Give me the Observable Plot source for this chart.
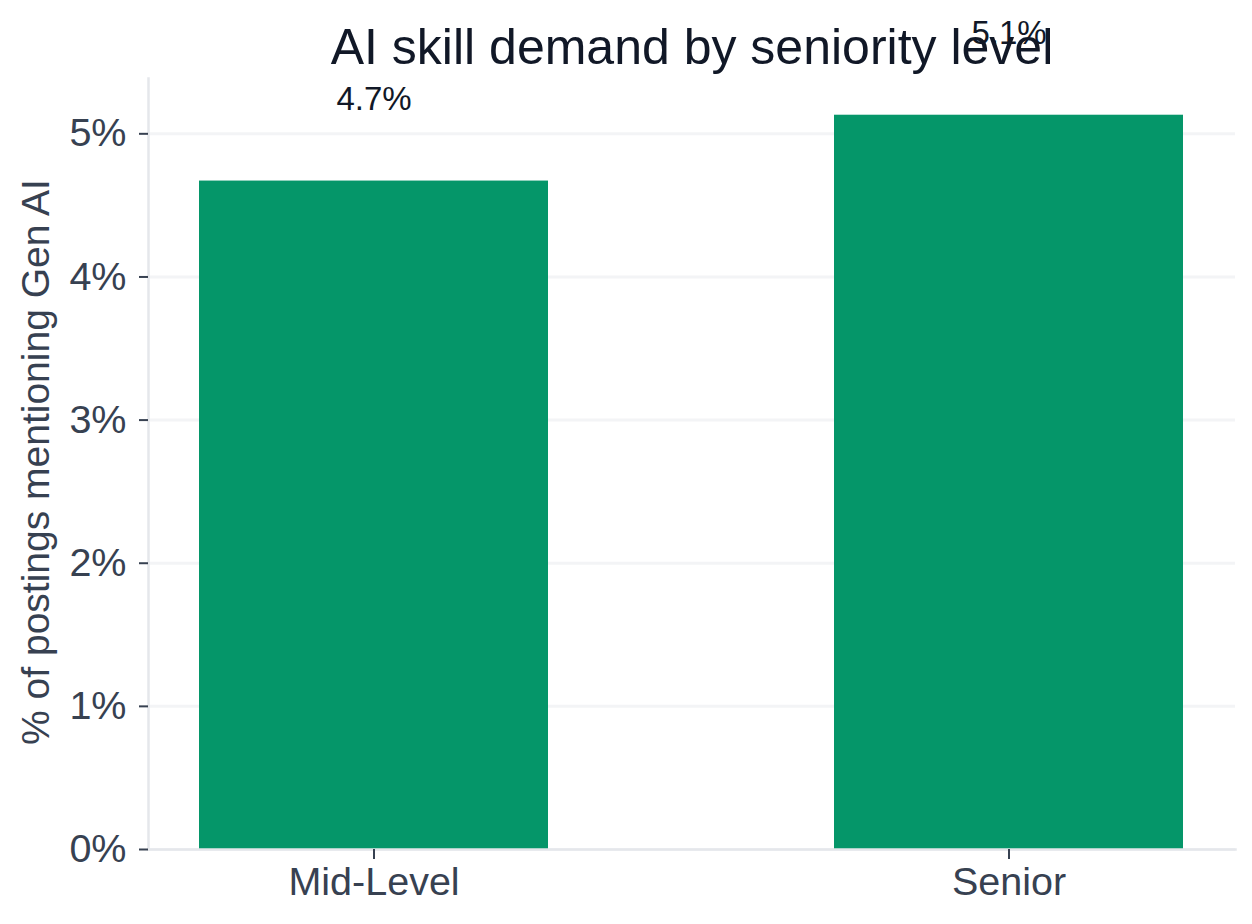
<!DOCTYPE html>
<html>
<head>
<meta charset="utf-8">
<script src="https://cdn.jsdelivr.net/npm/d3@7"></script>
<script src="https://cdn.jsdelivr.net/npm/@observablehq/plot@0.6"></script>
<style>
  html, body { margin: 0; padding: 0; background: #ffffff; }
  #chart { width: 1252px; height: 924px; }
</style>
</head>
<body>
<div id="chart"></div>
<script>
const categories = ["Mid-Level", "Senior"];
const values = [4.67, 5.13];
const labels = ["4.7%", "5.1%"];
const yTicks = [0, 1, 2, 3, 4, 5];
const titleText = "AI skill demand by seniority level";
const yLabelText = "% of postings mentioning Gen AI";

const data = categories.map((c, i) => ({ level: c, value: values[i], label: labels[i] }));
const FONT = "Liberation Sans, Arial, Helvetica, sans-serif";

const chart = Plot.plot({
  width: 1252,
  height: 924,
  marginLeft: 148,
  marginRight: 17,
  marginTop: 78,
  marginBottom: 75,
  style: { fontFamily: FONT, background: "#ffffff", overflow: "visible" },
  x: { domain: categories, paddingInner: 0.45, paddingOuter: 0.08 },
  y: { domain: [0, d3.max(values) * 1.05] },
  marks: [
    Plot.gridY(yTicks, { stroke: "#f3f4f6", strokeWidth: 3, strokeOpacity: 1 }),
    Plot.barY(data, { x: "level", y: "value", fill: "#059669" }),
    Plot.frame({ anchor: "left", stroke: "#e5e7eb", strokeWidth: 2.5 }),
    Plot.frame({ anchor: "bottom", stroke: "#e5e7eb", strokeWidth: 2.5 }),
    Plot.axisY(yTicks, {
      tickFormat: d => d + "%",
      tickSize: 9,
      tickPadding: 13,
      fontSize: 39.5,
      color: "#374151",
      strokeWidth: 2,
      label: null
    }),
    Plot.axisX({
      tickSize: 10,
      tickPadding: 7,
      fontSize: 39.5,
      color: "#374151",
      strokeWidth: 2,
      label: null
    }),
    Plot.text(data, {
      x: "level", y: "value", text: "label",
      dy: -71, lineAnchor: "bottom", textAnchor: "middle",
      fontSize: 33, fill: "#111827"
    }),
    Plot.text([titleText], {
      frameAnchor: "top", dy: -15, lineAnchor: "bottom",
      fontSize: 50, fill: "#111827"
    }),
    Plot.text([yLabelText], {
      frameAnchor: "left", rotate: -90, dx: -100, dy: -2, lineAnchor: "bottom",
      textAnchor: "middle",
      fontSize: 39, fill: "#374151"
    })
  ]
});
document.getElementById("chart").appendChild(chart);
</script>
</body>
</html>
